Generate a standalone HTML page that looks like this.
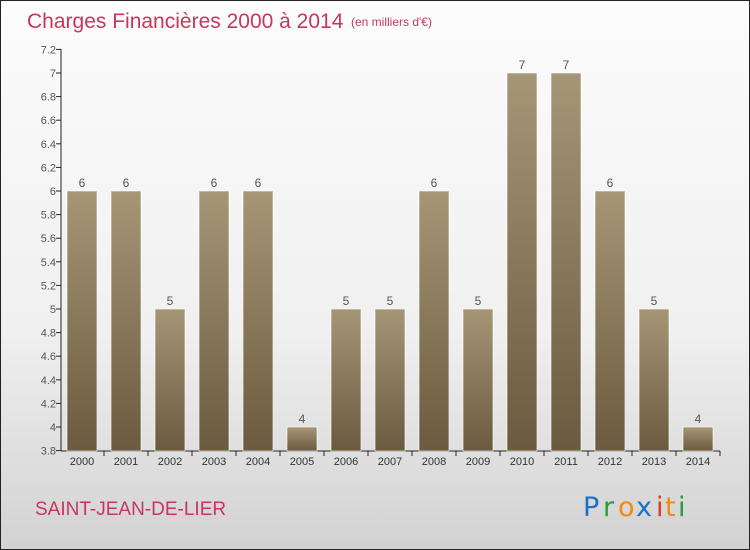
<!DOCTYPE html>
<html><head><meta charset="utf-8"><style>
body{margin:0;width:750px;height:550px;overflow:hidden;font-family:"Liberation Sans",sans-serif}
#c{position:absolute;left:0;top:0;width:748px;height:548px;border:1px solid #222;background:linear-gradient(#fcfcfc 0%,#f0f0f0 60%,#d2d2d2 100%)}
</style></head><body>
<div id="c">
<svg width="750" height="550" style="position:absolute;left:-1px;top:-1px" id="svg">
<text x="27" y="28" font-size="21" fill="#c8365f">Charges Financières 2000 à 2014</text>
<text x="351" y="26" font-size="12" fill="#c8365f">(en milliers d'€)</text>
<text x="35" y="515" font-size="19" fill="#c8365f">SAINT-JEAN-DE-LIER</text>
<g font-size="27" font-family="'DejaVu Sans',sans-serif">
<text x="583" y="516" fill="#1a72c8">P</text><text x="603" y="516" fill="#2a9a3a">r</text><text x="618" y="516" fill="#f08a10">o</text><text x="636" y="516" fill="#1a72c8">x</text><text x="656" y="516" fill="#e03a20">i</text><text x="665" y="516" fill="#f08a10">t</text><text x="678" y="516" fill="#2a9a3a">i</text>
</g>
<defs><linearGradient id="bg" x1="0" y1="0" x2="0" y2="1"><stop offset="0" stop-color="#a69676"/><stop offset="1" stop-color="#6b5a3f"/></linearGradient></defs>
<g id="plot"></g>
</svg></div>
<script>
const categories=["2000","2001","2002","2003","2004","2005","2006","2007","2008","2009","2010","2011","2012","2013","2014"];
const values=[6,6,5,6,6,4,5,5,6,5,7,7,6,5,4];
const yTicks=[3.8,4,4.2,4.4,4.6,4.8,5,5.2,5.4,5.6,5.8,6,6.2,6.4,6.6,6.8,7,7.2];
const yMin=3.8,yMax=7.2;
const y=v=>450.6-(v-yMin)/(yMax-yMin)*401.2;
const x=i=>82+i*44;
const ns="http://www.w3.org/2000/svg",g=document.getElementById('plot');
function mk(t,a,txt){const e=document.createElementNS(ns,t);for(const k in a)e.setAttribute(k,a[k]);if(txt!==undefined)e.textContent=txt;g.appendChild(e);return e;}
yTicks.forEach(t=>{
 const l=mk('line',{x1:56,x2:61,y1:y(t),y2:y(t),stroke:'#222'});
 
 
 const tx=mk('text',{x:56,y:y(t)+4,'font-size':11,fill:'#555','text-anchor':'end'},String(t).replace(/\.0$/,''));
 
 
});
const ax=mk('line',{x1:61,x2:61,y1:49,y2:451,stroke:'#222'});


const xa=mk('line',{x1:61,x2:720,y1:451,y2:451,stroke:'#222'});


categories.forEach((c,i)=>{
 const b=mk('rect',{x:x(i)-15,y:y(values[i]),width:30,height:451-y(values[i]),fill:'url(#bg)',stroke:'#fff','stroke-width':0.6});
 
 
 const v=mk('text',{x:x(i),y:y(values[i])-4,'font-size':12,fill:'#555','text-anchor':'middle'},String(values[i]));
 
 
 const tk=mk('line',{x1:x(i)+22,x2:x(i)+22,y1:451,y2:456,stroke:'#222'});
 
 
 const xl=mk('text',{x:x(i),y:465,'font-size':11,fill:'#333','text-anchor':'middle'},c);
 
 
});
</script>
</body></html>
